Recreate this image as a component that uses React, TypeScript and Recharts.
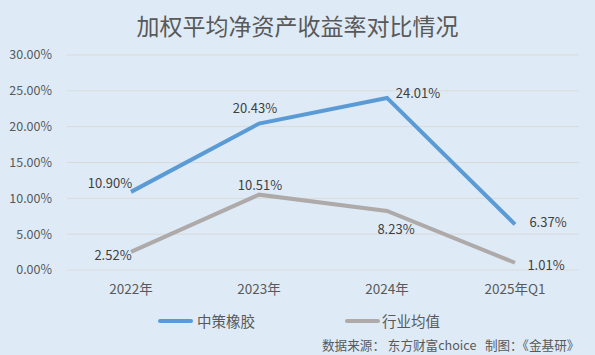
import React from 'react'
import { LineChart, Line, XAxis, YAxis, CartesianGrid, LabelList } from 'recharts'

const categories = ['2022年', '2023年', '2024年', '2025年Q1']
const zcValues = [10.9, 20.43, 24.01, 6.37]
const industryValues = [2.52, 10.51, 8.23, 1.01]
const yTicks = [0, 5, 10, 15, 20, 25, 30]

const data = categories.map((name, i) => ({
  name,
  zc: zcValues[i],
  industry: industryValues[i],
}))

const FONT = '"Noto Sans CJK SC", "Noto Sans", sans-serif'
const BLUE = '#5B9BD5'
const GRAY = '#AEAAAA'

// label nudges relative to each point (dx, dy of the text centre)
const zcOffsets = [[-21, -9], [-4, -16], [31, -5], [33, -3]]
const industryOffsets = [[-18, 3], [1, -10], [9, 17], [31, 2]]

function makeLabel(offsets: number[][]) {
  return (props: any) => {
    const { x, y, value, index } = props
    const [dx, dy] = offsets[index]
    return (
      <text
        x={x + dx}
        y={y + dy}
        textAnchor="middle"
        dominantBaseline="central"
        fill="#404040"
        fontSize={13}
        fontFamily={FONT}
      >
        {value.toFixed(2)}%
      </text>
    )
  }
}

const legendStyle: React.CSSProperties = {
  position: 'absolute',
  top: 311,
  height: 20,
  lineHeight: '20px',
  display: 'flex',
  alignItems: 'center',
  fontSize: 14.5,
  color: '#595959',
  whiteSpace: 'nowrap',
}

export default function App() {
  return (
    <div
      style={{
        position: 'absolute',
        left: 0,
        top: 0,
        width: 595,
        height: 355,
        background: '#DEEBF7',
        fontFamily: FONT,
        overflow: 'hidden',
      }}
    >
      <div
        style={{
          position: 'absolute',
          top: 12,
          width: '100%',
          textAlign: 'center',
          fontSize: 23,
          lineHeight: '26px',
          color: '#595959',
        }}
      >
        加权平均净资产收益率对比情况
      </div>
      <LineChart
        width={595}
        height={355}
        data={data}
        margin={{ top: 55, right: 16, bottom: 55, left: 0 }}
      >
        <CartesianGrid vertical={false} stroke="#D9D9D9" strokeWidth={1} />
        <XAxis
          dataKey="name"
          height={30}
          padding={{ left: 64, right: 64 }}
          axisLine={false}
          tickLine={false}
          tickMargin={8}
          tick={{ fill: '#595959', fontSize: 13.5, fontFamily: FONT }}
        />
        <YAxis
          width={67}
          domain={[0, 30]}
          ticks={yTicks}
          axisLine={false}
          tickLine={false}
          tickMargin={9}
          tickFormatter={(v: number) => `${v.toFixed(2)}%`}
          tick={{ fill: '#595959', fontSize: 12.5, fontFamily: FONT }}
        />
        <Line
          dataKey="zc"
          stroke={BLUE}
          strokeWidth={4}
          dot={false}
          isAnimationActive={false}
        >
          <LabelList dataKey="zc" content={makeLabel(zcOffsets)} />
        </Line>
        <Line
          dataKey="industry"
          stroke={GRAY}
          strokeWidth={4}
          dot={false}
          isAnimationActive={false}
        >
          <LabelList dataKey="industry" content={makeLabel(industryOffsets)} />
        </Line>
      </LineChart>
      <div style={{ ...legendStyle, left: 158 }}>
        <span style={{ width: 35, height: 4, background: BLUE, borderRadius: 2, marginRight: 4 }} />
        中策橡胶
      </div>
      <div style={{ ...legendStyle, left: 345 }}>
        <span style={{ width: 35, height: 4, background: GRAY, borderRadius: 2, marginRight: 2 }} />
        行业均值
      </div>
      <div
        style={{
          position: 'absolute',
          left: 322,
          top: 337,
          fontSize: 12.6,
          lineHeight: '16px',
          color: '#595959',
          whiteSpace: 'nowrap',
        }}
      >
        数据来源：&nbsp;东方财富choice&nbsp;&nbsp;&nbsp;制图：《金基研》
      </div>
    </div>
  )
}
